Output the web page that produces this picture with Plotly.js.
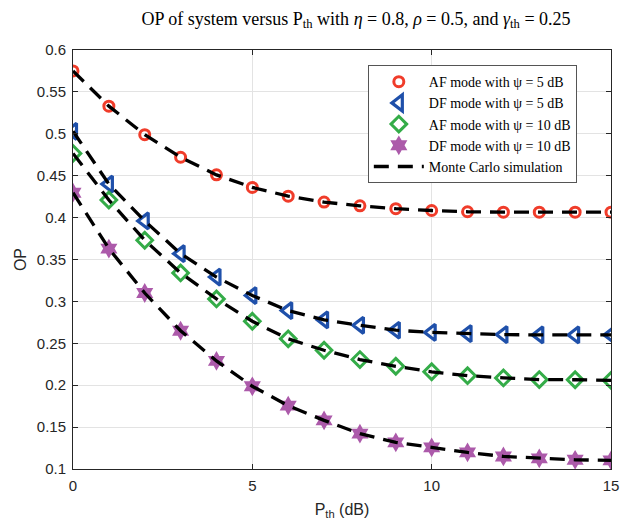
<!DOCTYPE html>
<html>
<head>
<meta charset="utf-8">
<script src="https://cdn.plot.ly/plotly-3.0.1.min.js"></script>
<style>html,body{margin:0;padding:0;background:#fff;}#chart{width:629px;height:524px;}</style>
</head>
<body>
<div id="chart"></div>
<script>
const pth = [0,1,2,3,4,5,6,7,8,9,10,11,12,13,14,15];
const afPsi5  = [0.575,0.533,0.499,0.472,0.451,0.436,0.4256,0.4185,0.414,0.4106,0.4085,0.407,0.4065,0.4065,0.4065,0.4065];
const dfPsi5  = [0.503,0.440,0.396,0.357,0.329,0.307,0.289,0.278,0.2715,0.2656,0.263,0.2616,0.2604,0.260,0.260,0.260];
const afPsi10 = [0.4766,0.421,0.373,0.334,0.303,0.2763,0.2553,0.2417,0.2306,0.2226,0.216,0.2114,0.2087,0.2067,0.2065,0.2058];
const dfPsi10 = [0.4297,0.363,0.310,0.265,0.229,0.1987,0.1756,0.158,0.1422,0.1318,0.1258,0.1198,0.115,0.1127,0.111,0.1103];
const seriesNames = ["AF mode with ψ = 5 dB","DF mode with ψ = 5 dB","AF mode with ψ = 10 dB","DF mode with ψ = 10 dB"];
const mcName = "Monte Carlo simulation";

const series = [afPsi5, dfPsi5, afPsi10, dfPsi10];
const colors = ["#F03C2A","#1F50AA","#34AC48","#AC5AAA"];
const symbols = ["circle-open","triangle-left-open","diamond-open","hexagram"];
const sizes = [10,14,12,15];
const lw = [3,3.2,3,0];

const traces = [];
series.forEach((s,i)=>{
  traces.push({x:pth,y:s,name:seriesNames[i],mode:'markers',type:'scatter',
    marker:{symbol:symbols[i],size:sizes[i],color:colors[i],line:{color:colors[i],width:lw[i]}}});
});
series.forEach((s,i)=>{
  traces.push({x:pth,y:s,name:mcName,mode:'lines',type:'scatter',showlegend:i===0,
    line:{color:'#000',width:3.3,dash:'15px,9px'}});
});

const axisCommon = {showline:true,linecolor:'#262626',linewidth:1,mirror:'ticks',ticks:'inside',ticklen:5,
  tickcolor:'#262626',gridcolor:'#e3e3e3',gridwidth:1,zeroline:false,ticklabelstandoff:3,
  tickfont:{family:'Liberation Sans, Arial',size:15,color:'#262626'}};

const layout = {
  width:629,height:524,paper_bgcolor:'#fff',plot_bgcolor:'#fff',
  margin:{l:73,r:18,t:50,b:55},
  title:{text:'OP of system versus P<sub>th</sub> with <i>η</i> = 0.8, <i>ρ</i> = 0.5, and <i>γ</i><sub>th</sub> = 0.25',
    font:{family:'Liberation Serif, Times New Roman',size:18,color:'#000'},x:0.566,xanchor:'center',y:0.965,yref:'container',yanchor:'middle'},
  xaxis:Object.assign({},axisCommon,{range:[0,15],tickvals:[0,5,10,15],
    title:{text:'P<sub>th</sub> (dB)',font:{family:'Liberation Sans, Arial',size:16,color:'#262626'},standoff:10}}),
  yaxis:Object.assign({},axisCommon,{range:[0.1,0.6],tickvals:[0.1,0.15,0.2,0.25,0.3,0.35,0.4,0.45,0.5,0.55,0.6],
    ticktext:['0.1','0.15','0.2','0.25','0.3','0.35','0.4','0.45','0.5','0.55','0.6'],
    title:{text:'OP',font:{family:'Liberation Sans, Arial',size:16,color:'#262626'},standoff:6}}),
  legend:{x:0.548,y:0.964,xanchor:'left',yanchor:'top',bgcolor:'#fff',bordercolor:'#555',borderwidth:1,
    font:{family:'Liberation Serif, Times New Roman',size:14,color:'#000'},tracegroupgap:0,itemwidth:50},
  showlegend:true
};

Plotly.newPlot('chart',traces,layout,{displayModeBar:false,staticPlot:true});
</script>
</body>
</html>
